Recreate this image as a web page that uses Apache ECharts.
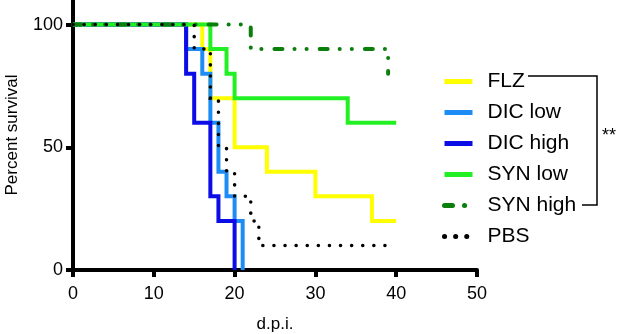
<!DOCTYPE html>
<html>
<head>
<meta charset="utf-8">
<script src="https://cdn.jsdelivr.net/npm/echarts@6/dist/echarts.min.js"></script>
<style>
  html, body { margin: 0; padding: 0; background: #fff; }
  #chart { width: 617px; height: 334px; }
</style>
</head>
<body>
<div id="chart"></div>
<script>
// survival curves: day of each step and percent surviving after it
const flzDays = [0, 16, 17, 20, 24, 30, 37, 40];
const flzSurv = [100, 90, 70, 50, 40, 30, 20, 20];
const dicLowDays = [0, 14, 16, 17, 18, 19, 20, 21];
const dicLowSurv = [100, 90, 80, 60, 40, 30, 20, 0];
const dicHighDays = [0, 14, 15, 17, 18, 20];
const dicHighSurv = [100, 80, 60, 30, 20, 0];
const synLowDays = [0, 17, 19, 20, 34, 40];
const synLowSurv = [100, 90, 80, 70, 60, 60];
const synHighDays = [0, 22, 39];
const synHighSurv = [100, 90, 80];
const pbsDays = [0, 15, 17, 18, 19, 20, 22, 23, 39];
const pbsSurv = [100, 90, 70, 50, 40, 30, 20, 10, 10];

const xTicks = [0, 10, 20, 30, 40, 50];
const yTicks = [0, 50, 100];

const chart = echarts.init(document.getElementById("chart"));
const font = "Liberation Sans";

function pairs(days, surv) {
  return days.map((d, i) => [d, surv[i]]);
}

function curve(name, days, surv, color, lineStyle) {
  return {
    name: name,
    type: "line",
    step: "end",
    symbol: "none",
    data: pairs(days, surv),
    itemStyle: { color: color },
    lineStyle: Object.assign({ color: color, width: 4, cap: "butt", join: "miter" }, lineStyle || {}),
    emphasis: { disabled: true },
    animation: false,
  };
}

let option = {
  backgroundColor: "#fff",
  grid: {
    left: 73,
    right: 140,
    top: 0,
    bottom: 64,
    outerBoundsMode: "none",
  },
  xAxis: {
    type: "value",
    min: 0,
    max: 50,
    interval: 10,
    name: "d.p.i.",
    nameLocation: "middle",
    nameGap: 46,
    nameTextStyle: { color: "#000", fontFamily: font, fontSize: 17 },
    axisLine: { lineStyle: { color: "#000", width: 4 } },
    axisTick: { length: 7, lineStyle: { color: "#000", width: 4 } },
    axisLabel: {
      color: "#000",
      fontFamily: font,
      fontSize: 18,
      margin: 15,
      customValues: xTicks,
    },
    splitLine: { show: false },
  },
  yAxis: {
    type: "value",
    min: 0,
    max: 110,
    interval: 50,
    name: "Percent survival",
    nameLocation: "middle",
    nameGap: 52,
    nameTextStyle: { color: "#000", fontFamily: font, fontSize: 17 },
    axisLine: { lineStyle: { color: "#000", width: 4 } },
    axisTick: { length: 7, lineStyle: { color: "#000", width: 4 }, customValues: yTicks },
    axisLabel: {
      color: "#000",
      fontFamily: font,
      fontSize: 18,
      margin: 10,
      customValues: yTicks,
    },
    splitLine: { show: false },
  },
  legend: {
    orient: "vertical",
    left: 437,
    top: 66,
    itemWidth: 28,
    itemHeight: 14,
    itemGap: 10,
    selectedMode: false,
    itemStyle: { opacity: 0 },
    lineStyle: { width: 5 },
    textStyle: { color: "#000", fontFamily: font, fontSize: 21, padding: [0, 0, 0, 10] },
    data: ["FLZ", "DIC low", "DIC high", "SYN low", "SYN high", "PBS"],
  },
  graphic: [
    {
      type: "polyline",
      shape: { points: [[528, 76], [597, 76], [597, 205], [582, 205]] },
      style: { stroke: "#000", lineWidth: 1.5, fill: null },
    },
    {
      type: "text",
      left: 602,
      top: 127,
      style: { text: "**", fill: "#000", font: "18px " + font },
    },
  ],
  series: [
    curve("FLZ", flzDays, flzSurv, "#ffff00"),
    curve("DIC low", dicLowDays, dicLowSurv, "#1e8cf5"),
    curve("DIC high", dicHighDays, dicHighSurv, "#0c0ce6"),
    curve("SYN low", synLowDays, synLowSurv, "#22f022"),
    curve("SYN high", synHighDays, synHighSurv, "#0b7f0b", {
      type: [8, 12, 0.1, 12, 0.1, 13],
      cap: "round",
    }),
    curve("PBS", pbsDays, pbsSurv, "#000", {
      type: [0.1, 11],
      cap: "round",
      width: 3.5,
    }),
  ],
};

chart.setOption(option);
</script>
</body>
</html>
